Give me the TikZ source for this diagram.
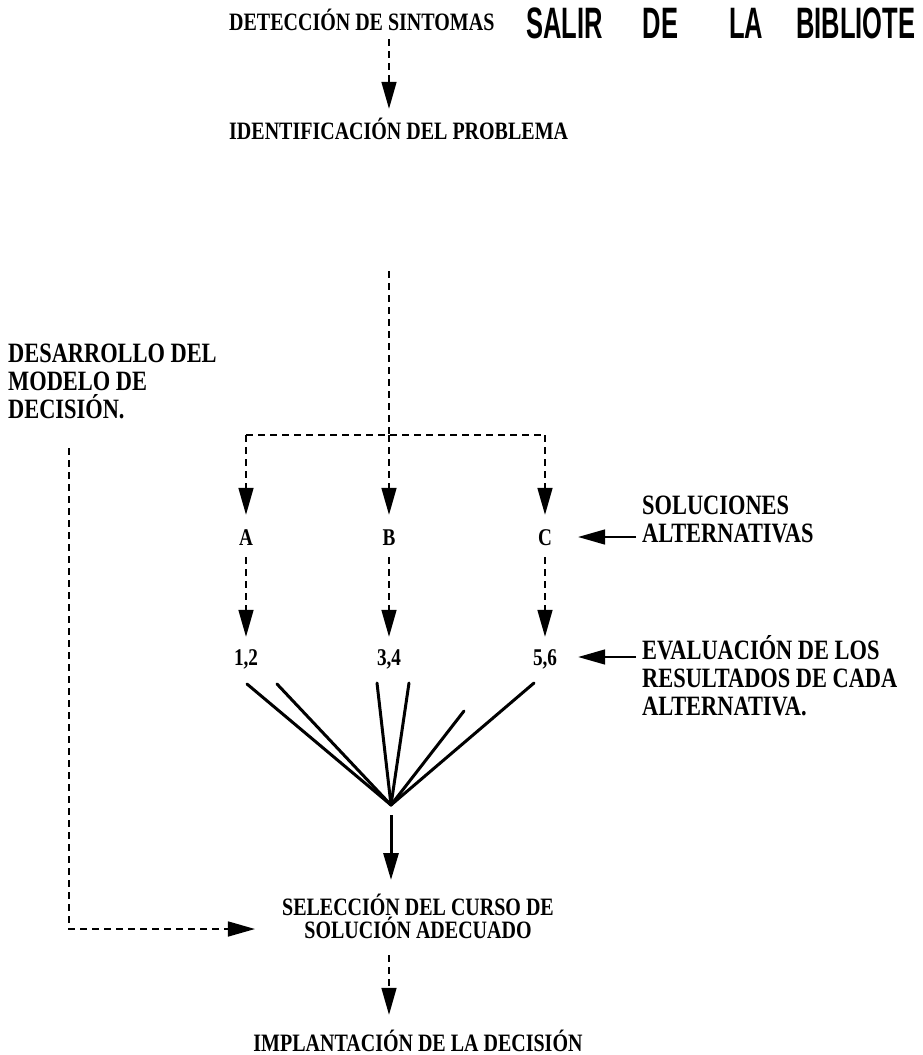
\documentclass[tikz,border=0pt]{standalone}
\usepackage{fontspec}
\setmainfont{Liberation Serif}
\newfontfamily\fuente[FakeStretch=0.8]{Liberation Serif}
\newfontfamily\fuentesello[FakeStretch=0.58]{Liberation Sans}
\usetikzlibrary{arrows.meta}

\tikzset{
	centro/.style={font=\fuente\bfseries\fontsize{25}{23}\selectfont, inner sep=0pt},
	linea/.style={centro, text height=16pt, text depth=0pt},
	letra/.style={font=\fuente\bfseries\fontsize{24}{24}\selectfont, inner sep=0pt, text height=16pt, text depth=0pt},
	nota/.style={font=\fuente\bfseries\fontsize{28}{28}\selectfont, inner sep=0pt, align=left, anchor=north west},
	sello/.style={font=\fuentesello\bfseries\fontsize{44}{44}\selectfont, inner sep=0pt, anchor=west},
	punteada/.style={line width=1.6pt, dash pattern=on 7pt off 5pt},
	flecha/.style={-{Triangle[length=27pt,width=15pt]}},
	rama/.style={line width=3pt, line cap=round},
}

\begin{document}
\begin{tikzpicture}[x=1pt,y=-1pt]
	%%%%% START %%%%%
	\useasboundingbox (0,0) rectangle (923,1055);
	\clip (0,0) rectangle (923,1055);
	
	% sello
	\node[sello] (stamp) at (526,23) {SALIR\hspace{40pt}DE\hspace{51pt}LA\hspace{33pt}BIBLIOTE};
	
	% arriba
	\node[linea, anchor=west] (sint) at (229,22) {DETECCIÓN DE SINTOMAS};
	\node[linea, anchor=west] (prob) at (229,131) {IDENTIFICACIÓN DEL PROBLEMA};
	\coordinate (eje) at (389,0);
	\draw[punteada, flecha, shorten <=9pt, shorten >=14pt] (sint.south -| eje) -- (prob.north -| eje);
	
	\coordinate (split) at (389,435);
	\coordinate (ramaA) at (246,435);
	\coordinate (ramaC) at (545,435);
	\draw[punteada, shorten <=132pt] (prob.south -| split) -- (split);
	\draw[punteada] (ramaA) -- (ramaC);
	
	% alternativas
	\node[letra] (A) at (246,537) {A};
	\node[letra] (B) at (389,537) {B};
	\node[letra] (C) at (545,537) {C};
	\draw[punteada, flecha, shorten >=14pt] (ramaA) -- (A);
	\draw[punteada, flecha, shorten >=14pt] (split) -- (B);
	\draw[punteada, flecha, shorten >=14pt] (ramaC) -- (C);
	
	\node[letra] (r12) at (246,657) {1,2};
	\node[letra] (r34) at (389,657) {3,4};
	\node[letra] (r56) at (545,657) {5,6};
	\draw[punteada, flecha, shorten <=12pt, shorten >=12pt] (A) -- (r12);
	\draw[punteada, flecha, shorten <=12pt, shorten >=12pt] (B) -- (r34);
	\draw[punteada, flecha, shorten <=12pt, shorten >=12pt] (C) -- (r56);
	
	% notas
	\node[nota] (sol) at (642,496) {SOLUCIONES\\ALTERNATIVAS};
	\node[nota] (eva) at (642,635) {EVALUACIÓN DE LOS\\RESULTADOS DE CADA\\ALTERNATIVA.};
	\draw[flecha, line width=1.6pt, shorten <=6pt, shorten >=26pt] (C -| sol.west) -- (C);
	\draw[flecha, line width=1.6pt, shorten <=6pt, shorten >=21pt] (r56 -| eva.west) -- (r56);
	
	% abanico
	\coordinate (cruce) at (391,805);
	\foreach \x/\y [count=\i] in {247/684, 277/684, 377/683, 409/683, 464/711, 534/683}
		\coordinate (f\i) at (\x,\y);
	\foreach \i in {1,...,6}
		\draw[rama] (f\i) -- (cruce);
	
	% seleccion
	\node[centro, align=center, anchor=north] (sel) at (418,894) {SELECCIÓN DEL CURSO DE\\SOLUCIÓN ADECUADO};
	\draw[flecha, line width=3pt, shorten <=10pt, shorten >=14pt] (cruce) -- (sel.north -| cruce);
	
	\node[nota] (des) at (8,344) {DESARROLLO DEL\\MODELO DE\\DECISIÓN.};
	\coordinate (esquina) at (69,929);
	\draw[punteada, flecha, shorten <=29pt, shorten >=27pt] (des.south -| esquina) -- (esquina) -- (sel.west |- esquina);
	
	\node[linea] (impl) at (418,1043) {IMPLANTACIÓN DE LA DECISIÓN};
	\draw[punteada, flecha, shorten <=16pt, shorten >=20pt] (sel.south -| eje) -- (impl.north -| eje);
	
	%%%%% END %%%%%
\end{tikzpicture}
\end{document}
